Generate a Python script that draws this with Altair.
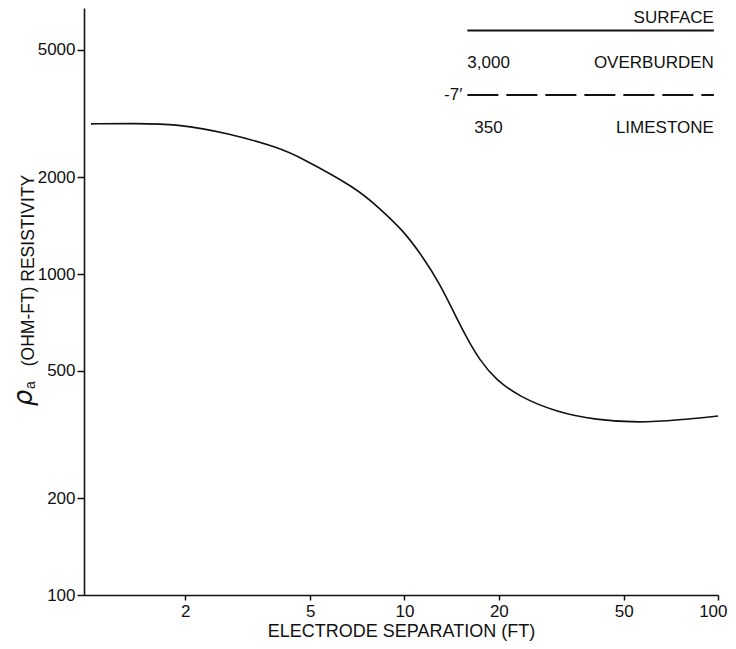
import altair as alt
import pandas as pd

# Apparent resistivity sounding curve
sep_ft = [1.0, 1.4, 1.87, 2.77, 4.0, 4.63, 7.03, 8.32, 9.88, 11.44, 12.93, 14.25,
          15.72, 17.34, 19.59, 23.23, 30.4, 40.8, 56.0, 75.1, 100.0]
rho_ohmft = [2937, 2945, 2937, 2743, 2469, 2315, 1853, 1602, 1371, 1132, 935, 772,
             638, 540, 468, 415, 372, 351, 344, 351, 361]

x_ticks = [2, 5, 10, 20, 50, 100]
y_ticks = [100, 200, 500, 1000, 2000, 5000]

# Inset (layer model), in data coordinates
right_labels = ["SURFACE", "OVERBURDEN", "-7′", "LIMESTONE"]
right_x = [97, 97, 15.3, 97]
right_y = [6273, 4542, 3611, 2850]
left_labels = ["3,000", "350"]
left_x = [15.87, 16.7]
left_y = [4542, 2850]
boundary_kind = ["solid", "dashed"]
boundary_y = [5736, 3611]
boundary_x0 = [15.87, 15.87]
boundary_x1 = [97, 97]

FONT = "Liberation Sans"
INK = "#111111"

curve_df = pd.DataFrame({"sep": sep_ft, "rho": rho_ohmft})
right_df = pd.DataFrame({"t": right_labels, "x": right_x, "y": right_y})
left_df = pd.DataFrame({"t": left_labels, "x": left_x, "y": left_y})
bound_df = pd.DataFrame({"kind": boundary_kind, "y": boundary_y,
                         "x0": boundary_x0, "x1": boundary_x1})

xscale = alt.Scale(type="log", domain=[0.95, 100], nice=False)
yscale = alt.Scale(type="log", domain=[100, 6742], nice=False)

xaxis = alt.Axis(values=x_ticks, format="d", title="ELECTRODE SEPARATION (FT)",
                 titleFontSize=18, titleFont=FONT, titleFontWeight="normal",
                 titleColor=INK, titlePadding=3, labelFontSize=17, labelPadding=3,
                 labelFlush=True, labelFlushOffset=9, tickSize=5)
yaxis = alt.Axis(values=y_ticks, format="d", title="(OHM-FT) RESISTIVITY",
                 titleFontSize=17.5, titleFont=FONT, titleFontWeight="normal",
                 titleColor=INK, titleX=-56, titleY=262, titleAngle=270,
                 titleBaseline="middle", titleAlign="center",
                 labelFontSize=17, labelPadding=2, labelFlush=False, tickSize=7)

curve = alt.Chart(curve_df).mark_line(color=INK, strokeWidth=1.6,
                                      interpolate="basis").encode(
    x=alt.X("sep:Q", scale=xscale, axis=xaxis),
    y=alt.Y("rho:Q", scale=yscale, axis=yaxis),
)

solid = alt.Chart(bound_df).transform_filter(alt.datum.kind == "solid").mark_rule(
    color=INK, strokeWidth=2).encode(
    x=alt.X("x0:Q", scale=xscale), x2="x1:Q", y=alt.Y("y:Q", scale=yscale))
dashed = alt.Chart(bound_df).transform_filter(alt.datum.kind == "dashed").mark_rule(
    color=INK, strokeWidth=2, strokeDash=[31, 8]).encode(
    x=alt.X("x0:Q", scale=xscale), x2="x1:Q", y=alt.Y("y:Q", scale=yscale))

rtext = alt.Chart(right_df).mark_text(align="right", baseline="middle", font=FONT,
                                      fontSize=17, color=INK).encode(
    x=alt.X("x:Q", scale=xscale), y=alt.Y("y:Q", scale=yscale), text="t:N")
ltext = alt.Chart(left_df).mark_text(align="left", baseline="middle", font=FONT,
                                     fontSize=17, color=INK).encode(
    x=alt.X("x:Q", scale=xscale), y=alt.Y("y:Q", scale=yscale), text="t:N")

rho_sym = alt.Chart(pd.DataFrame({"t": ["ρ"]})).mark_text(
    angle=270, align="center", baseline="middle", font="DejaVu Sans",
    fontStyle="italic", fontSize=26, color=INK).encode(
    x=alt.value(-60), y=alt.value(390), text="t:N")
rho_sub = alt.Chart(pd.DataFrame({"t": ["a"]})).mark_text(
    angle=270, align="center", baseline="middle", font=FONT,
    fontSize=14, color=INK).encode(
    x=alt.value(-53), y=alt.value(377), text="t:N")

chart = alt.layer(curve, solid, dashed, rtext, ltext, rho_sym, rho_sub).properties(
    width=634, height=587,
    padding={"left": 76, "top": 0, "right": 10, "bottom": 52},
    autosize=alt.AutoSizeParams(type="none"),
).configure_view(stroke="transparent").configure_axis(
    grid=False, domainColor=INK, domainWidth=1.6, tickColor=INK, tickWidth=1.5,
    labelColor=INK, labelFont=FONT,
)

chart.save("out.html", embed_options={"renderer": "svg", "actions": False})
